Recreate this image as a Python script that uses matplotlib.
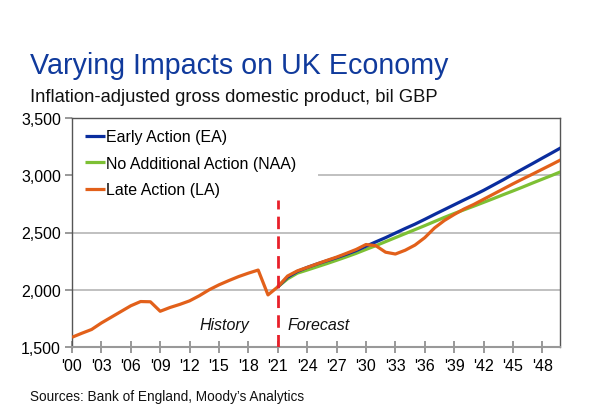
import matplotlib
matplotlib.use("Agg")
import matplotlib.pyplot as plt
from matplotlib.ticker import FuncFormatter

plt.rcParams['font.family'] = ['Liberation Sans', 'DejaVu Sans']

# ---- data ----
hist_years = list(range(2000, 2022))
history = [1585, 1620, 1653, 1710, 1760, 1810, 1860, 1897, 1895, 1812,
           1845, 1872, 1903, 1948, 2000, 2043, 2080, 2115, 2145, 2172,
           1955, 2025]

fc_years = list(range(2021, 2051))
early_action = [2025, 2110, 2160, 2195, 2225, 2253, 2280, 2310, 2342, 2380,
                2418, 2455, 2495, 2535, 2573, 2615, 2658, 2700, 2742, 2784,
                2825, 2868, 2914, 2960, 3008, 3055, 3102, 3150, 3197, 3245]
no_additional = [2025, 2095, 2145, 2172, 2200, 2228, 2257, 2287, 2318, 2352,
                 2385, 2420, 2455, 2490, 2525, 2560, 2596, 2632, 2666, 2698,
                 2730, 2763, 2796, 2830, 2863, 2897, 2932, 2966, 3000, 3035]
late_action = [2025, 2120, 2165, 2195, 2226, 2256, 2285, 2318, 2352, 2395,
               2385, 2328, 2312, 2345, 2390, 2455, 2540, 2605, 2657, 2705,
               2745, 2790, 2835, 2880, 2925, 2968, 3010, 3053, 3096, 3140]

tick_years = list(range(2000, 2050, 3))
tick_labels = ["'" + str(y)[2:] for y in tick_years]
y_ticks = [1500, 2000, 2500, 3000, 3500]
grid_levels = [2000, 2500, 3000]

names = ["Early Action (EA)", "No Additional Action (NAA)", "Late Action (LA)"]
c_blue = "#0A2D9E"
c_green = "#7DC034"
c_orange = "#E2601A"

fig = plt.figure(figsize=(6.0, 4.1), dpi=100)
ax = fig.add_axes([72/600, 1-348/410, (560-72)/600, (348-119)/410])

lw = 2.3
h_green, = ax.plot(fc_years, no_additional, color=c_green, lw=lw, zorder=3,
                   solid_capstyle='butt', label=names[1])
h_blue, = ax.plot(fc_years, early_action, color=c_blue, lw=lw, zorder=4,
                  solid_capstyle='butt', label=names[0])
h_orange, = ax.plot(hist_years + fc_years[1:], history + late_action[1:],
                    color=c_orange, lw=lw, zorder=5, solid_capstyle='butt',
                    label=names[2])

ax.plot([2021, 2021], [1500, 2780], color="#E8202A", lw=2.0,
        dashes=(4.5, 2.6), zorder=6)

ax.text(2015.6, 1700, "History", style='italic', fontsize=11.5,
        ha='center', va='center', color='#111111')
ax.text(2022.0, 1700, "Forecast", style='italic', fontsize=11.5,
        ha='left', va='center', color='#111111')

ax.set_xlim(2000, 2049.8)
ax.set_ylim(1500, 3500)
ax.set_xticks(tick_years)
ax.set_xticklabels(tick_labels)
ax.set_yticks(y_ticks)
ax.yaxis.set_major_formatter(FuncFormatter(lambda v, p: f"{int(v):,}"))

# gridlines (the top one is hidden behind the legend box on the left)
ax.axhline(grid_levels[0], color="#C0C0C0", lw=1.4, zorder=1)
ax.axhline(grid_levels[1], color="#C0C0C0", lw=1.4, zorder=1)
ax.axhline(grid_levels[2], xmin=(319-72)/488, color="#C0C0C0", lw=1.4, zorder=1)

for s in ['left', 'top', 'right']:
    ax.spines[s].set_color('#555555')
    ax.spines[s].set_linewidth(1.0)
ax.spines['bottom'].set_color('#999999')
ax.spines['bottom'].set_linewidth(1.5)

ax.tick_params(axis='x', direction='inout', length=8, width=1.2,
               color='#888888', labelsize=11.5, pad=4)
ax.tick_params(axis='y', direction='out', length=5, width=1.2,
               color='#888888', labelsize=11.5, pad=3)

leg = ax.legend(handles=[h_blue, h_green, h_orange], loc='upper left',
                bbox_to_anchor=(13/488, 1 - 11.5/229), fontsize=11.5, frameon=False,
                handlelength=1.25, handletextpad=0.05, labelspacing=0.72,
                borderpad=0.0, borderaxespad=0.0)

fig.text(30/600, 1-66/410, "Varying Impacts on UK Economy", fontsize=20.6,
         color="#103A9C", ha='left', va='center')
fig.text(30/600, 1-98/410, "Inflation-adjusted gross domestic product, bil GBP",
         fontsize=13.2, color="#111111", ha='left', va='center')
fig.text(30/600, 1-397/410, "Sources: Bank of England, Moody\u2019s Analytics",
         fontsize=9.8, color="#111111", ha='left', va='center')

fig.savefig("out.png", dpi=100)
